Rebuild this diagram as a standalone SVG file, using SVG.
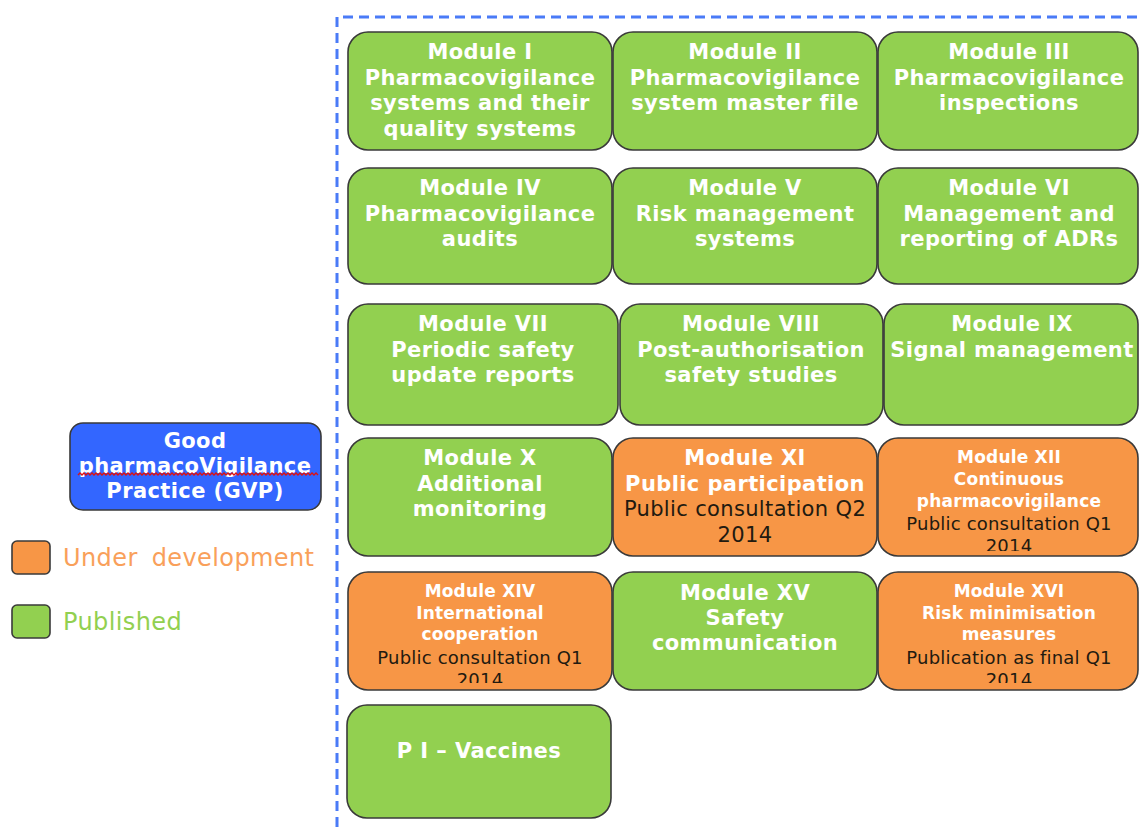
<svg xmlns="http://www.w3.org/2000/svg" width="1139" height="827" viewBox="0 0 1139 827">
<style>
.g{fill:#92D050;stroke:#3a3a3a;stroke-width:1.6}
.o{fill:#F79646;stroke:#3a3a3a;stroke-width:1.6}
.b{fill:#3366FF;stroke:#3a3a3a;stroke-width:1.6}
.t{font-family:"DejaVu Sans",Verdana,sans-serif;font-weight:bold;font-size:21px;fill:#ffffff;text-anchor:middle;letter-spacing:0.4px}
.ts{font-family:"DejaVu Sans",Verdana,sans-serif;font-weight:bold;font-size:17px;fill:#ffffff;text-anchor:middle;letter-spacing:0.2px}
.d{font-family:"DejaVu Sans",Verdana,sans-serif;font-size:18px;fill:#221a10;text-anchor:middle;letter-spacing:0.2px}
.dl{font-family:"DejaVu Sans",Verdana,sans-serif;font-size:21px;fill:#221a10;text-anchor:middle;letter-spacing:0.35px}
.lg{font-family:"DejaVu Sans",Verdana,sans-serif;font-size:24px;letter-spacing:0.4px}
</style>
<defs>
<clipPath id="c12"><rect x="879" y="439" width="258" height="112"/></clipPath>
<clipPath id="c14"><rect x="349" y="573" width="262" height="110"/></clipPath>
<clipPath id="c16"><rect x="879" y="573" width="258" height="110"/></clipPath>
</defs>
<rect width="1139" height="827" fill="#ffffff"/>
<g id="frame"><path d="M337,827 V17 H1139" fill="none" stroke="#4A7BF7" stroke-width="3" stroke-dasharray="10,6"/></g>

<g id="gvp">
<rect class="b" x="70" y="423" width="251" height="87" rx="13"/>
<text class="t" x="195" y="448">Good</text>
<text class="t" x="195" y="473">pharmacoVigilance</text>
<path d="M78,475 l2,-2 l2,2 l2,-2 l2,2 l2,-2 l2,2 l2,-2 l2,2 l2,-2 l2,2 l2,-2 l2,2 l2,-2 l2,2 l2,-2 l2,2 l2,-2 l2,2 l2,-2 l2,2 l2,-2 l2,2 l2,-2 l2,2 l2,-2 l2,2 l2,-2 l2,2 l2,-2 l2,2 l2,-2 l2,2 l2,-2 l2,2 l2,-2 l2,2 l2,-2 l2,2 l2,-2 l2,2 l2,-2 l2,2 l2,-2 l2,2 l2,-2 l2,2 l2,-2 l2,2 l2,-2 l2,2 l2,-2 l2,2 l2,-2 l2,2 l2,-2 l2,2 l2,-2 l2,2 l2,-2 l2,2 l2,-2 l2,2 l2,-2 l2,2 l2,-2 l2,2 l2,-2 l2,2 l2,-2 l2,2 l2,-2 l2,2 l2,-2 l2,2 l2,-2 l2,2 l2,-2 l2,2 l2,-2 l2,2 l2,-2 l2,2 l2,-2 l2,2 l2,-2 l2,2 l2,-2 l2,2 l2,-2 l2,2 l2,-2 l2,2 l2,-2 l2,2 l2,-2 l2,2 l2,-2 l2,2 l2,-2 l2,2 l2,-2 l2,2 l2,-2 l2,2 l2,-2 l2,2 l2,-2 l2,2 l2,-2 l2,2 l2,-2 l2,2 l2,-2 l2,2 l2,-2 l2,2 l2,-2 l2,2 l2,-2 l2,2" fill="none" stroke="#dd1111" stroke-width="1.4"/>
<text class="t" x="195" y="498">Practice (GVP)</text>
</g>

<g id="legend-under">
<rect class="o" x="12" y="541" width="38" height="33" rx="5"/>
<text class="lg" x="63" y="566" fill="#F9A05A" word-spacing="6">Under development</text>
</g>
<g id="legend-published">
<rect class="g" x="12" y="605" width="38" height="33" rx="5"/>
<text class="lg" x="63" y="630" fill="#92D050">Published</text>
</g>

<g id="m1"><rect class="g" x="348" y="32" width="264" height="118" rx="20"/>
<text class="t" x="480" y="59">Module I</text><text class="t" x="480" y="84.5">Pharmacovigilance</text><text class="t" x="480" y="110">systems and their</text><text class="t" x="480" y="135.5">quality systems</text></g>
<g id="m2"><rect class="g" x="613" y="32" width="264" height="118" rx="20"/>
<text class="t" x="745" y="59">Module II</text><text class="t" x="745" y="84.5">Pharmacovigilance</text><text class="t" x="745" y="110">system master file</text></g>
<g id="m3"><rect class="g" x="878" y="32" width="260" height="118" rx="20"/>
<text class="t" x="1009" y="59">Module III</text><text class="t" x="1009" y="84.5">Pharmacovigilance</text><text class="t" x="1009" y="110">inspections</text></g>

<g id="m4"><rect class="g" x="348" y="168" width="264" height="116" rx="20"/>
<text class="t" x="480" y="195">Module IV</text><text class="t" x="480" y="220.5">Pharmacovigilance</text><text class="t" x="480" y="246">audits</text></g>
<g id="m5"><rect class="g" x="613" y="168" width="264" height="116" rx="20"/>
<text class="t" x="745" y="195">Module V</text><text class="t" x="745" y="220.5">Risk management</text><text class="t" x="745" y="246">systems</text></g>
<g id="m6"><rect class="g" x="878" y="168" width="260" height="116" rx="20"/>
<text class="t" x="1009" y="195">Module VI</text><text class="t" x="1009" y="220.5">Management and</text><text class="t" x="1009" y="246">reporting of ADRs</text></g>

<g id="m7"><rect class="g" x="348" y="304" width="270" height="121" rx="20"/>
<text class="t" x="483" y="331">Module VII</text><text class="t" x="483" y="356.5">Periodic safety</text><text class="t" x="483" y="382">update reports</text></g>
<g id="m8"><rect class="g" x="620" y="304" width="263" height="121" rx="20"/>
<text class="t" x="751" y="331">Module VIII</text><text class="t" x="751" y="356.5">Post-authorisation</text><text class="t" x="751" y="382">safety studies</text></g>
<g id="m9"><rect class="g" x="884" y="304" width="254" height="121" rx="20"/>
<text class="t" x="1012" y="331">Module IX</text><text class="t" x="1012" y="356.5">Signal management</text></g>

<g id="m10"><rect class="g" x="348" y="438" width="264" height="118" rx="20"/>
<text class="t" x="480" y="465">Module X</text><text class="t" x="480" y="490.5">Additional</text><text class="t" x="480" y="516">monitoring</text></g>
<g id="m11"><rect class="o" x="613" y="438" width="264" height="118" rx="20"/>
<text class="t" x="745" y="465">Module XI</text><text class="t" x="745" y="490.5">Public participation</text><text class="dl" x="745" y="516">Public consultation Q2</text><text class="dl" x="745" y="541.5">2014</text></g>
<g id="m12"><rect class="o" x="878" y="438" width="260" height="118" rx="20"/>
<g clip-path="url(#c12)"><text class="ts" x="1009" y="463">Module XII</text><text class="ts" x="1009" y="485">Continuous</text><text class="ts" x="1009" y="506.5">pharmacovigilance</text><text class="d" x="1009" y="530">Public consultation Q1</text><text class="d" x="1009" y="552">2014</text></g></g>

<g id="m14"><rect class="o" x="348" y="572" width="264" height="118" rx="20"/>
<g clip-path="url(#c14)"><text class="ts" x="480" y="597">Module XIV</text><text class="ts" x="480" y="618.5">International</text><text class="ts" x="480" y="640">cooperation</text><text class="d" x="480" y="663.5">Public consultation Q1</text><text class="d" x="480" y="686">2014</text></g></g>
<g id="m15"><rect class="g" x="613" y="572" width="264" height="118" rx="20"/>
<text class="t" x="745" y="600">Module XV</text><text class="t" x="745" y="625">Safety</text><text class="t" x="745" y="650">communication</text></g>
<g id="m16"><rect class="o" x="878" y="572" width="260" height="118" rx="20"/>
<g clip-path="url(#c16)"><text class="ts" x="1009" y="597">Module XVI</text><text class="ts" x="1009" y="618.5">Risk minimisation</text><text class="ts" x="1009" y="640">measures</text><text class="d" x="1009" y="663.5">Publication as final Q1</text><text class="d" x="1009" y="686">2014</text></g></g>

<g id="p1"><rect class="g" x="347" y="705" width="264" height="113" rx="20"/>
<text class="t" x="479" y="758">P I – Vaccines</text></g>
</svg>
